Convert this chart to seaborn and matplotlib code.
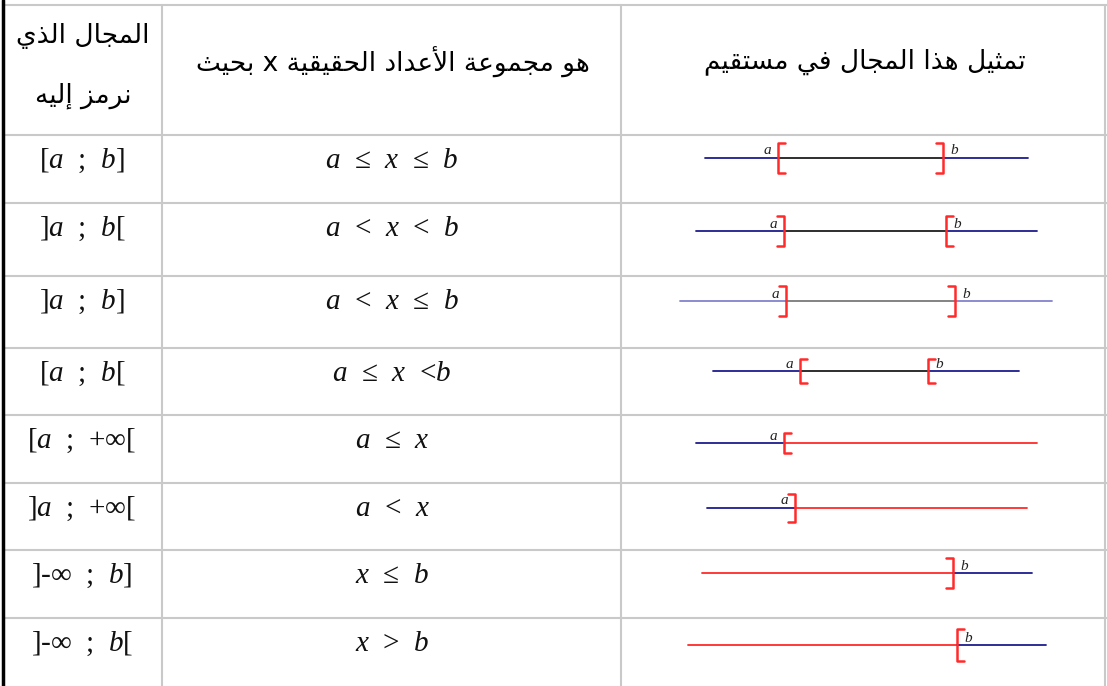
import matplotlib
matplotlib.use("Agg")
import matplotlib.pyplot as plt
import seaborn as sns
import pandas as pd

# ---- table content ----
header_interval = ["المجال الذي", "نرمز إليه"]
header_set = "هو مجموعة الأعداد الحقيقية x بحيث"
header_line = "تمثيل هذا المجال في مستقيم"

intervals = ["[$a$  ;  $b$]", "]$a$  ;  $b$[", "]$a$  ;  $b$]", "[$a$  ;  $b$[",
             "[$a$  ;  +$\\infty$[", "]$a$  ;  +$\\infty$[", "]-$\\infty$  ;  $b$]", "]-$\\infty$  ;  $b$["]
conditions = ["$a$  ≤  $x$  ≤  $b$", "$a$  <  $x$  <  $b$", "$a$  <  $x$  ≤  $b$", "$a$  ≤  $x$  <$b$",
              "$a$  ≤  $x$", "$a$  <  $x$", "$x$  ≤  $b$", "$x$  >  $b$"]

# number lines (pixel x)
line_left = [705, 696, 680, 713, 696, 707, 702, 688]
line_right = [1028, 1037, 1052, 1019, 1037, 1027, 1032, 1046]
a_pos = [778, 784, 786, 800, 784, 795, None, None]
b_pos = [943, 946, 955, 928, None, None, 953, 957]
a_bracket = ["[", "]", "]", "[", "[", "]", None, None]
b_bracket = ["]", "[", "]", "[", None, None, "]", "["]
bracket_half = [15, 15, 15, 12, 10, 14, 15, 16]

# ---- layout ----
row_tops = [135, 203, 276, 348, 415, 483, 550, 618]
col_lines = [162, 621, 1105]
line_offset = [23, 28, 25, 23, 28, 25, 23, 27]

BLUE = "#1c1c8e"
BLUE_LIGHT = "#8282cc"
DARK = "#1e1e1e"
GREY = "#7a7a7a"
RED = "#ff2a2a"
GRID = "#c9c9c9"

# ---- minimal arabic shaping (matplotlib draws letters unjoined, left to right) ----
AR_LETTERS = "ءآأؤإئابةتثجحخدذرزسشصضطظعغفقكلمنهوىي"
RIGHT_ONLY = set("آأؤإادذرزوةى")
FORMS = {}
code = 0xFE80
for ch in AR_LETTERS:
    n = 1 if ch == "ء" else 2 if ch in RIGHT_ONLY else 4
    FORMS[ch] = [chr(code + i) for i in range(n)]
    code += n
LAM_ALEF = {"آ": 0xFEF5, "أ": 0xFEF7, "إ": 0xFEF9, "ا": 0xFEFB}


def shape_arabic(text):
    glyphs = []
    prev_joins = False
    i = 0
    while i < len(text):
        c = text[i]
        if c not in FORMS:
            glyphs.append(c)
            prev_joins = False
            i += 1
            continue
        nxt = text[i + 1] if i + 1 < len(text) else ""
        if c == "ل" and nxt in LAM_ALEF:
            glyphs.append(chr(LAM_ALEF[nxt] + (1 if prev_joins else 0)))
            prev_joins = False
            i += 2
            continue
        forms = FORMS[c]
        next_joins = len(forms) == 4 and nxt in FORMS and nxt != "ء"
        if len(forms) == 1:
            g = forms[0]
        elif prev_joins and next_joins:
            g = forms[3]
        elif prev_joins:
            g = forms[1]
        elif next_joins:
            g = forms[2]
        else:
            g = forms[0]
        glyphs.append(g)
        prev_joins = len(forms) == 4
        i += 1
    return "".join(reversed(glyphs))


sns.set_theme(style="white")
plt.rcParams["font.family"] = ["DejaVu Sans"]
plt.rcParams["mathtext.fontset"] = "custom"
plt.rcParams["mathtext.rm"] = "Liberation Serif"
plt.rcParams["mathtext.it"] = "Liberation Serif:italic"

fig = plt.figure(figsize=(11.07, 6.86), dpi=100)
ax = fig.add_axes([0, 0, 1, 1])
ax.set_xlim(0, 1107)
ax.set_ylim(686, 0)
ax.axis("off")

# grid
for y in [5] + row_tops:
    ax.plot([3, 1107], [y, y], color=GRID, lw=1.5, zorder=1)
for x in col_lines:
    ax.plot([x, x], [5, 686], color=GRID, lw=1.5, zorder=1)
ax.plot([2.5, 2.5], [0, 686], color="black", lw=2.5, zorder=2)

# headers
hdr = dict(ha="center", va="center", fontsize=19, color="black")
ax.text(83, 36, shape_arabic(header_interval[0]), **hdr)
ax.text(83, 96, shape_arabic(header_interval[1]), **hdr)
ax.text(393, 62, shape_arabic(header_set), **hdr)
ax.text(865, 62, shape_arabic(header_line), **hdr)

# cells text
for i, top in enumerate(row_tops):
    ax.text(82, top + 26, intervals[i], ha="center", va="center", fontsize=21,
            family="Liberation Serif", color="#111111")
    ax.text(392, top + 26, conditions[i], ha="center", va="center", fontsize=21,
            family="Liberation Serif", color="#111111")

# number lines
segments = []
for i, top in enumerate(row_tops):
    y = top + line_offset[i]
    light = i == 2
    blue = BLUE_LIGHT if light else BLUE
    mid = GREY if light else DARK
    a, b = a_pos[i], b_pos[i]
    if a is not None and b is not None:
        parts = [(line_left[i], a, blue), (a, b, mid), (b, line_right[i], blue)]
    elif a is not None:
        parts = [(line_left[i], a, blue), (a, line_right[i], RED)]
    else:
        parts = [(line_left[i], b, RED), (b, line_right[i], blue)]
    for x0, x1, c in parts:
        segments.append({"x": [x0, x1], "y": [y, y], "color": c, "lw": 1.3})

    h = bracket_half[i]
    for pos, kind in [(a, a_bracket[i]), (b, b_bracket[i])]:
        if pos is None:
            continue
        w = 7 if kind == "[" else -7
        segments.append({"x": [pos + w, pos, pos, pos + w], "y": [y - h, y - h, y + h, y + h],
                         "color": RED, "lw": 1.8})
    if a is not None:
        ax.text(a - 11, y - 7, "a", ha="center", va="center", fontsize=11,
                family="Liberation Serif", style="italic", color="#222222")
    if b is not None:
        ax.text(b + 11, y - 7, "b", ha="center", va="center", fontsize=11,
                family="Liberation Serif", style="italic", color="#222222")

for k, s in enumerate(segments):
    df = pd.DataFrame({"x": s["x"], "y": s["y"]})
    sns.lineplot(data=df, x="x", y="y", color=s["color"], lw=s["lw"], sort=False,
                 estimator=None, ax=ax, zorder=3)

ax.set_xlim(0, 1107)
ax.set_ylim(686, 0)
ax.axis("off")
fig.savefig("out.png", dpi=100)
